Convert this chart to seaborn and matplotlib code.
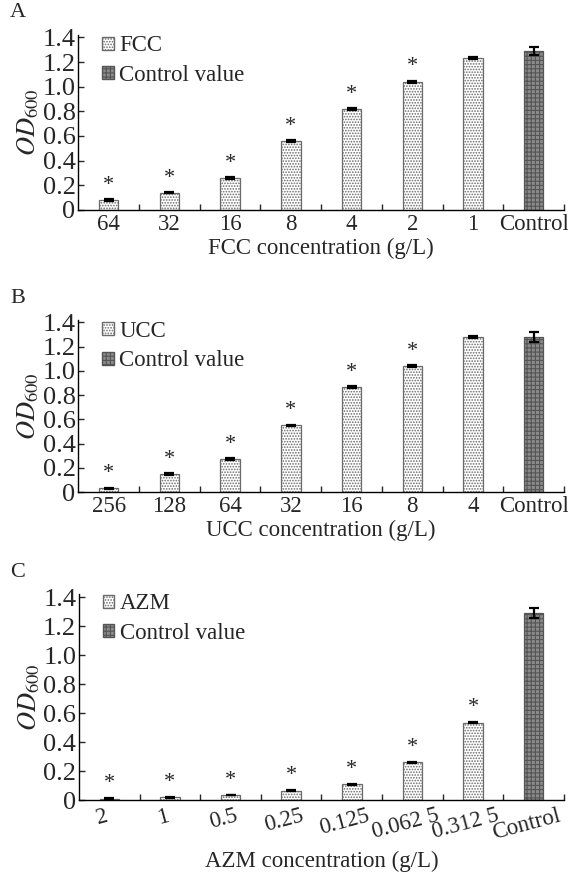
import matplotlib
matplotlib.use("Agg")
import matplotlib.pyplot as plt
import seaborn as sns
import pandas as pd
import numpy as np
from matplotlib.patches import Patch

sns.set_theme(style="ticks")
plt.rcParams['font.family'] = ['Liberation Serif', 'DejaVu Serif']
plt.rcParams['mathtext.fontset'] = 'stix'
plt.rcParams['hatch.linewidth'] = 0.8

# Panel A: FCC
fcc_labels = ["64", "32", "16", "8", "4", "2", "1", "Control"]
fcc_values = [0.08, 0.14, 0.26, 0.56, 0.82, 1.04, 1.23, 1.29]
fcc_errors = [0.006, 0.006, 0.005, 0.006, 0.008, 0.01, 0.008, 0.035]

# Panel B: UCC
ucc_labels = ["256", "128", "64", "32", "16", "8", "4", "Control"]
ucc_values = [0.03, 0.15, 0.27, 0.55, 0.87, 1.04, 1.28, 1.28]
ucc_errors = [0.006, 0.007, 0.007, 0.006, 0.007, 0.008, 0.008, 0.04]

# Panel C: AZM
azm_labels = ["2", "1", "0.5", "0.25", "0.125", "0.062 5", "0.312 5", "Control"]
azm_values = [0.01, 0.02, 0.035, 0.065, 0.11, 0.26, 0.535, 1.29]
azm_errors = [0.003, 0.003, 0.002, 0.004, 0.003, 0.003, 0.005, 0.035]

# significance marks
fcc_sig = [True, True, True, True, True, True, False, False]
ucc_sig = [True, True, True, True, True, True, False, False]
azm_sig = [True, True, True, True, True, True, True, False]

fig = plt.figure(figsize=(5.68, 8.73), dpi=100)


def draw_panel(rect, letter, name, labels, values, errors, sig, rot=0, xsize=16.5):
    ax = fig.add_axes(rect)
    df = pd.DataFrame({"conc": labels, "od": values,
                       "grp": [name] * (len(labels) - 1) + ["Control value"]})
    sns.barplot(data=df, x="conc", y="od", hue="grp", order=labels,
                palette={name: "white", "Control value": "#8a8a8a"},
                width=0.32, dodge=False, legend=False, ax=ax)
    for p in ax.patches:
        if p.get_facecolor()[0] > 0.9:
            p.set_hatch("......")
            p.set_edgecolor("#6a6a6a")
        else:
            p.set_hatch("++++")
            p.set_edgecolor("#555555")
        p.set_linewidth(0.9)
    x = np.arange(len(labels))
    ax.errorbar(x, values, yerr=errors, fmt="none", ecolor="black",
                elinewidth=1.6, capsize=3.5, capthick=1.6)
    for xi, v, e, s in zip(x, values, errors, sig):
        if s:
            ax.text(xi, v + e + 0.035, "*", ha="center", va="bottom", fontsize=16)
    ax.set_ylim(0, 1.42)
    ax.set_xlim(-0.5, len(labels) - 0.5)
    ax.set_yticks([0, 0.2, 0.4, 0.6, 0.8, 1.0, 1.2, 1.4])
    ax.set_yticklabels(["0", "0.2", "0.4", "0.6", "0.8", "1.0", "1.2", "1.4"])
    ax.set_xticks(x)
    if rot:
        # rotated labels, nudged left like in the original
        ax.set_xticklabels([])
        for xi, lab in zip(x, labels):
            ax.text(xi - 0.12, -0.025, lab, transform=ax.get_xaxis_transform(),
                    rotation=rot, ha="center", va="top", fontsize=xsize)
    else:
        ax.set_xticklabels(labels)
    ax.set_xticks(np.arange(0.5, len(labels), 1.0), minor=True)
    ax.tick_params(axis="x", which="major", length=0, labelsize=xsize, pad=3)
    ax.tick_params(axis="x", which="minor", length=4, direction="in", width=1)
    ax.tick_params(axis="y", length=4, direction="in", labelsize=19, pad=2, width=1)
    for sp in ["top", "right"]:
        ax.spines[sp].set_visible(False)
    for sp in ["left", "bottom"]:
        ax.spines[sp].set_linewidth(1.0)
        ax.spines[sp].set_color("black")
    ax.set_ylabel(r"$\mathit{OD}_{600}$", fontsize=19, labelpad=1)
    ax.set_xlabel(name + " concentration (g/L)", fontsize=16.5,
                  labelpad=(33 if rot else 2))
    handles = [Patch(facecolor="white", edgecolor="#6a6a6a", hatch="......"),
               Patch(facecolor="#8a8a8a", edgecolor="#555555", hatch="++++")]
    ax.legend(handles, [name, "Control value"], loc="upper left",
              bbox_to_anchor=(0.03, 1.05), frameon=False, fontsize=16.5,
              handlelength=0.5, handleheight=0.5, handletextpad=0.25,
              labelspacing=0.38, borderaxespad=0)
    fig.text(0.018, rect[1] + rect[3] + 0.02, letter, fontsize=16)
    return ax


draw_panel([0.138, 0.7595, 0.855, 0.2005], "A", "FCC",
           fcc_labels, fcc_values, fcc_errors, fcc_sig)
draw_panel([0.138, 0.4364, 0.855, 0.197], "B", "UCC",
           ucc_labels, ucc_values, ucc_errors, ucc_sig)
draw_panel([0.139, 0.0836, 0.854, 0.2355], "C", "AZM",
           azm_labels, azm_values, azm_errors, azm_sig, rot=15, xsize=16.5)

fig.savefig("out.png", dpi=100)
